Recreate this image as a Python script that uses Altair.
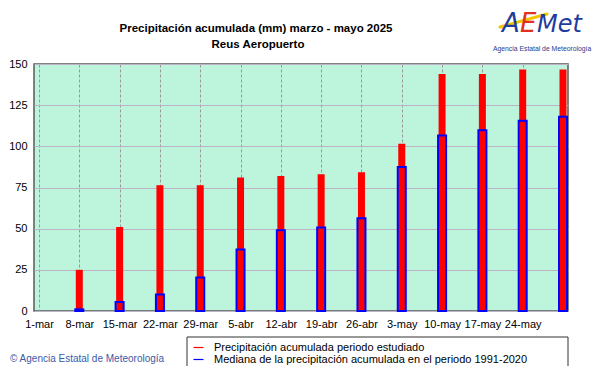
import altair as alt
import pandas as pd

# ---- data ----
fechas = ["2025-03-08", "2025-03-15", "2025-03-22", "2025-03-29", "2025-04-05",
          "2025-04-12", "2025-04-19", "2025-04-26", "2025-05-03", "2025-05-10",
          "2025-05-17", "2025-05-24", "2025-05-31"]
acumulada = [25, 51, 76.4, 76.4, 81, 82, 83, 84.3, 101.5, 144, 144, 146.7, 146.7]
mediana = [1, 5.5, 10, 20.3, 37.3, 49, 50.7, 56.4, 87.5, 106.6, 109.8, 115.5, 118]

serie_obs = "Precipitación acumulada periodo estudiado"
serie_med = "Mediana de la precipitación acumulada en el periodo 1991-2020"
colores = ["#ff0000", "#0000ff"]

# tick dates (day, month) for the x axis
ticks_x = [(1, 3), (8, 3), (15, 3), (22, 3), (29, 3), (5, 4), (12, 4), (19, 4),
           (26, 4), (3, 5), (10, 5), (17, 5), (24, 5)]
ticks_y = [0, 25, 50, 75, 100, 125, 150]

titulo = ["Precipitación acumulada (mm) marzo - mayo 2025", "Reus Aeropuerto"]
copyright_txt = "© Agencia Estatal de Meteorología"

FONT = "Liberation Sans"

df = pd.DataFrame({
    "fecha": fechas * 2,
    "valor": acumulada + mediana,
    "serie": [serie_obs] * len(fechas) + [serie_med] * len(fechas),
})

xscale = alt.Scale(type="utc",
                   domain=[alt.DateTime(year=2025, month=3, date=1, utc=True),
                           alt.DateTime(year=2025, month=5, date=31, utc=True)])
xaxis = alt.Axis(
    title=None,
    values=[alt.DateTime(year=2025, month=m, date=d, utc=True) for d, m in ticks_x],
    labelExpr="utcdate(datum.value) + '-' + ['ene','feb','mar','abr','may','jun','jul','ago','sep','oct','nov','dic'][utcmonth(datum.value)]",
    labelFont=FONT, labelFontSize=11, labelColor="#000000", labelPadding=7,
    labelOverlap=False, labelFlush=False,
    ticks=False, tickSize=0, domain=False,
    grid=True, gridColor="#999999", gridDash=[3, 2], gridWidth=1,
)
yaxis = alt.Axis(
    title=None, values=ticks_y,
    labelFont=FONT, labelFontSize=11, labelColor="#000000", labelPadding=7,
    ticks=False, tickSize=0, domain=False,
    grid=True, gridColor="#bdb3c6", gridWidth=1.2,
)
yscale = alt.Scale(domain=[0, 150], nice=False)

color_scale = alt.Scale(domain=[serie_obs, serie_med], range=colores)
legend = alt.Legend(
    title=None, orient="none", legendX=159, legendY=278, direction="vertical",
    symbolType="M-1,-0.12H1V0.12H-1Z", symbolSize=100, symbolStrokeWidth=0,
    labelFont=FONT, labelFontSize=11, labelColor="#000000", labelOffset=10,
    labelLimit=400, rowPadding=0, padding=0,
)

base = alt.Chart(df)

rojo = base.transform_filter(alt.datum.serie == serie_obs).mark_bar(size=7).encode(
    x=alt.X("fecha:T", scale=xscale, axis=xaxis),
    y=alt.Y("valor:Q", scale=yscale, axis=yaxis),
    color=alt.Color("serie:N", scale=color_scale, legend=legend),
)
azul = base.transform_filter(alt.datum.serie == serie_med).mark_bar(
    size=8, filled=False, strokeWidth=2
).encode(
    x=alt.X("fecha:T", scale=xscale),
    y=alt.Y("valor:Q", scale=yscale),
    color=alt.Color("serie:N", scale=color_scale, legend=legend),
)

one = alt.Data(values=[{}])

caja = alt.Chart(one).mark_rect(fill="#ffffff", stroke="#333333", strokeWidth=1).encode(
    x=alt.value(153), x2=alt.value(534), y=alt.value(273), y2=alt.value(303)
)

tit1 = alt.Chart(one).mark_text(font=FONT, fontSize=11.5, fontWeight="bold",
                                align="center", baseline="alphabetic", color="#000000").encode(
    x=alt.value(222), y=alt.value(-32), text=alt.value(titulo[0]))
tit2 = alt.Chart(one).mark_text(font=FONT, fontSize=11.5, fontWeight="bold",
                                align="center", baseline="alphabetic", color="#000000").encode(
    x=alt.value(224), y=alt.value(-16), text=alt.value(titulo[1]))

copy = alt.Chart(one).mark_text(font=FONT, fontSize=10, align="left",
                                baseline="alphabetic", color="#3a5aa8").encode(
    x=alt.value(-24), y=alt.value(298), text=alt.value(copyright_txt))

# logo
swoosh = alt.Chart(one).mark_rule(color="#f5c400", strokeWidth=3, strokeCap="round").encode(
    x=alt.value(466), x2=alt.value(513), y=alt.value(-37), y2=alt.value(-50))
logo_a = alt.Chart(one).mark_text(font="DejaVu Sans", fontSize=26, fontStyle="italic",
                                  align="left", baseline="alphabetic", color="#1f3c9c").encode(
    x=alt.value(468), y=alt.value(-32), text=alt.value("A"))
logo_e = alt.Chart(one).mark_text(font="DejaVu Sans", fontSize=26, fontStyle="italic",
                                  align="left", baseline="alphabetic", color="#e03020").encode(
    x=alt.value(486), y=alt.value(-32), text=alt.value("E"))
logo_m = alt.Chart(one).mark_text(font="DejaVu Sans", fontSize=24, fontStyle="italic",
                                  align="left", baseline="alphabetic", color="#1f3c9c").encode(
    x=alt.value(503), y=alt.value(-32), text=alt.value("Met"))
logo_t = alt.Chart(one).mark_text(font=FONT, fontSize=6.8, align="left",
                                  baseline="alphabetic", color="#2b3a8a").encode(
    x=alt.value(459), y=alt.value(-13), text=alt.value("Agencia Estatal de Meteorología"))

chart = alt.layer(
    caja, rojo, azul, tit1, tit2, copy, swoosh, logo_a, logo_e, logo_m, logo_t
).properties(
    width=534, height=247,
    autosize=alt.AutoSizeParams(type="none"),
    padding={"left": 26, "top": 56, "right": 25, "bottom": 55},
    background="#ffffff",
).configure_view(
    fill="#bcf4dc", stroke="#5a5a5a", strokeWidth=1.5
)

chart.save("out.html", embed_options={"renderer": "svg", "actions": False})
